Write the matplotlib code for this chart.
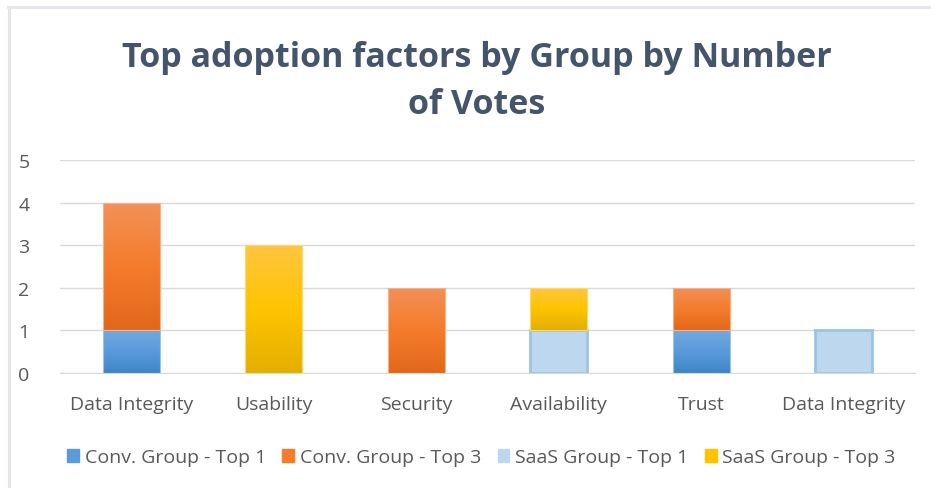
import matplotlib
matplotlib.use("Agg")
import matplotlib.pyplot as plt
import numpy as np
from matplotlib.colors import LinearSegmentedColormap
from matplotlib.patches import Rectangle
from matplotlib.lines import Line2D

categories = ["Data Integrity", "Usability", "Security", "Availability", "Trust", "Data Integrity"]
conv_top1 = [1, 0, 0, 0, 1, 0]
conv_top3 = [3, 0, 2, 0, 1, 0]
saas_top1 = [0, 0, 0, 1, 0, 1]
saas_top3 = [0, 3, 0, 1, 0, 0]
series_names = ["Conv. Group - Top 1", "Conv. Group - Top 3", "SaaS Group - Top 1", "SaaS Group - Top 3"]
yticks = [0, 1, 2, 3, 4, 5]

plt.rcParams['font.family'] = ['Open Sans', 'DejaVu Sans']

fig = plt.figure(figsize=(9.31, 4.89), dpi=100)
ax = fig.add_axes([0.0644, 0.235, 0.9186, 0.436])

# gradient definitions (top -> bottom)
grads = {
    0: ["#72A9DE", "#5A9BDC", "#3E85C6"],
    1: ["#F29158", "#F47C2C", "#E2671A"],
    3: ["#FFC640", "#FFC400", "#E3AF00"],
}
edges = {0: "#9DC3E6", 1: "#F6B08A", 3: "#FFD970"}

x = np.arange(len(categories))
width = 0.4
bottom = np.zeros(len(categories))
all_series = [conv_top1, conv_top3, saas_top1, saas_top3]
for i, vals in enumerate(all_series):
    vals = np.array(vals, dtype=float)
    if i == 2:
        bars = ax.bar(x, vals, width, bottom=bottom, color="#BDD7EE",
                      edgecolor="#9DC3E6", linewidth=2, zorder=3)
        for b in bars:
            if b.get_height() <= 0:
                b.set_visible(False)
    else:
        bars = ax.bar(x, vals, width, bottom=bottom, color="none",
                      edgecolor=edges[i], linewidth=0.8, zorder=4)
        cmap = LinearSegmentedColormap.from_list("g%d" % i, grads[i])
        grad = np.linspace(0, 1, 256).reshape(-1, 1)
        for b in bars:
            h = b.get_height()
            if h <= 0:
                b.set_visible(False)
                continue
            x0 = b.get_x(); y0 = b.get_y()
            im = ax.imshow(grad, cmap=cmap, aspect="auto",
                           extent=[x0, x0 + b.get_width(), y0, y0 + h],
                           origin="upper", zorder=3, interpolation="bilinear")
            im.set_clip_path(b)
    bottom += vals

ax.set_xlim(-0.5, len(categories) - 0.5)
ax.set_ylim(0, 5)
ax.set_yticks(yticks)
ax.set_xticks(x)
ax.set_xticklabels(categories)
ax.tick_params(axis="both", length=0, labelsize=14, labelcolor="#595959")
ax.tick_params(axis="x", pad=16)
for lbl in ax.get_yticklabels():
    lbl.set_horizontalalignment("left")
ax.yaxis.set_tick_params(pad=30)
ax.grid(axis="y", color="#D9D9D9", linewidth=1, zorder=0)
ax.set_axisbelow(True)
for s in ["top", "right", "left"]:
    ax.spines[s].set_visible(False)
ax.spines["bottom"].set_color("#D9D9D9")

fig.text(0.512, 0.834, "Top adoption factors by Group by Number\nof Votes",
         ha="center", va="center", fontsize=24.5, fontweight="bold",
         color="#44546A", linespacing=1.5)

handles = [Rectangle((0, 0), 1, 1, facecolor=c, edgecolor=e) for c, e in
           [("#5A9BDC", "#5A9BDC"), ("#F47C2C", "#F47C2C"),
            ("#BDD7EE", "#BDD7EE"), ("#FFC400", "#FFC400")]]
fig.legend(handles, series_names, loc="center", bbox_to_anchor=(0.517, 0.063),
           ncol=4, frameon=False, fontsize=14, labelcolor="#595959",
           handlelength=0.6, handleheight=0.6, handletextpad=0.3, columnspacing=0.85)

W, H = 931.0, 489.0
fig.lines.append(Line2D([8 / W, 1.0], [1 - 8 / H, 1 - 8 / H], transform=fig.transFigure,
                        color="#E3E6EC", linewidth=2.2))
fig.lines.append(Line2D([9 / W, 9 / W], [0.0, 1 - 8 / H], transform=fig.transFigure,
                        color="#E3E6EC", linewidth=2.2))

fig.savefig("out.png", dpi=100)
